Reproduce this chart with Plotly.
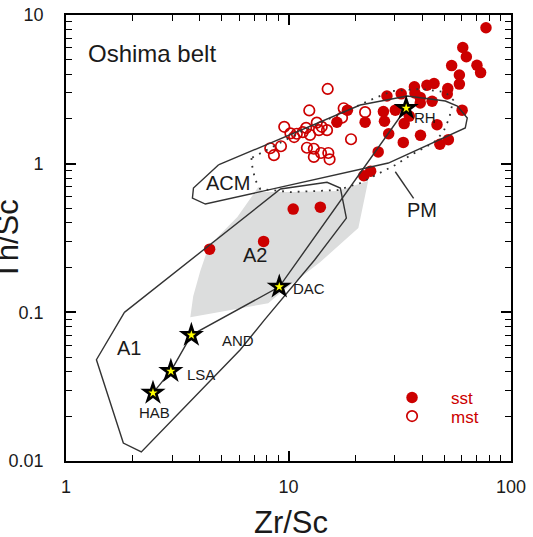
import math
import plotly.graph_objects as go

# ---------------- data (Zr/Sc, Th/Sc) ----------------
sst_zr = [77.2, 60.7, 63.0, 54.1, 70.3, 73.0, 58.6, 58.6, 52.0, 51.7, 45.1, 41.9, 36.8, 37.0, 39.1,
          32.1, 27.7, 44.2, 60.3, 26.7, 27.0, 30.2, 22.1, 16.5, 18.4, 33.1, 46.5, 28.2, 39.2, 32.8,
          52.3, 47.9, 25.3, 23.4, 21.8, 10.5, 13.9, 7.73, 4.42, 34.9, 39.1]
sst_th = [8.21, 6.04, 5.24, 4.57, 4.59, 4.10, 3.95, 3.43, 3.20, 2.94, 3.46, 3.37, 3.29, 2.99, 2.79,
          2.95, 2.85, 2.63, 2.29, 2.24, 1.93, 2.29, 1.90, 1.90, 2.29, 1.86, 1.83, 1.59, 1.55, 1.39,
          1.45, 1.35, 1.20, 0.89, 0.83, 0.495, 0.51, 0.30, 0.266, 2.09, 2.56]

mst_zr = [15.0, 12.4, 17.7, 22.1, 17.4, 9.57, 10.2, 10.6, 10.9, 11.6, 12.0, 12.5, 13.4, 14.1, 13.7,
          14.9, 19.1, 8.28, 9.25, 8.6, 12.1, 13.0, 14.0, 13.0, 15.1, 15.3]
mst_th = [3.18, 2.28, 2.36, 2.22, 2.04, 1.77, 1.60, 1.51, 1.59, 1.63, 1.74, 1.56, 1.89, 1.77, 1.68,
          1.68, 1.46, 1.27, 1.31, 1.14, 1.28, 1.26, 1.18, 1.11, 1.18, 1.07]

# reference compositions (trend HAB-LSA-AND-DAC-RH)
ref_names = ["HAB", "LSA", "AND", "DAC", "RH"]
ref_zr = [2.46, 2.96, 3.66, 9.09, 33.8]
ref_th = [0.0287, 0.0402, 0.0703, 0.1485, 2.36]

# fields
a1_zr = [1.83, 1.37, 1.81, 2.18, 6.07, 7.8, 13.1, 18.2, 17.1, 14.9, 9.2, 1.83]
a1_th = [0.100, 0.048, 0.0132, 0.0115, 0.056, 0.089, 0.225, 0.43, 0.685, 0.75, 0.675, 0.100]

acm_zr = [4.84, 3.74, 3.70, 4.23, 28.1, 35.3, 62.3, 63.6, 57.4, 50.7, 34.2, 21.0, 6.73, 4.84]
acm_th = [0.98, 0.685, 0.587, 0.535, 1.01, 1.18, 1.74, 2.03, 2.44, 2.64, 2.85, 2.48, 1.2, 0.98]

pm_zr = [6.81, 6.88, 7.09, 7.47, 10.2, 16.6, 21.0, 25.9, 30.2, 35.3, 44.8, 49.6, 52.8, 55.0,
         50.7, 39.1, 29.3, 23.3, 20.4, 11.3, 6.81]
pm_th = [1.09, 0.949, 0.776, 0.675, 0.644, 0.664, 0.74, 0.864, 0.98, 1.14, 1.38, 1.63, 2.03, 2.68,
         3.03, 3.18, 3.08, 2.68, 2.44, 1.63, 1.09]

a2_zr = [7.32, 7.7, 10.19, 16.6, 22.8, 20.6, 13.9, 9.19, 8.11, 3.62, 3.73, 4.01, 4.32, 4.79, 5.89, 7.32]
a2_th = [0.696, 0.644, 0.644, 0.654, 0.764, 0.369, 0.218, 0.135, 0.115, 0.0928, 0.1285, 0.189,
         0.262, 0.32, 0.437, 0.696]

pm_leader_zr = [30.2, 36.5]
pm_leader_th = [0.882, 0.584]

x_ticks = [1, 10, 100]
y_ticks = [0.01, 0.1, 1, 10]

# ---------------- figure ----------------
RED = '#cc0000'
LINE = '#333333'
FONT = 'Liberation Sans, Arial, sans-serif'

fig = go.Figure()

fig.add_trace(go.Scatter(x=a2_zr, y=a2_th, mode='lines', fill='toself', fillcolor='#dcdddd',
                         line=dict(width=0, color='#dcdddd'), showlegend=False, hoverinfo='skip'))

fig.add_trace(go.Scatter(x=mst_zr, y=mst_th, mode='markers', name='mst', legend='legend2',
                         marker=dict(symbol='circle-open', size=10.5, color=RED, line=dict(width=1.7, color=RED))))
fig.add_trace(go.Scatter(x=sst_zr, y=sst_th, mode='markers', name='sst', legend='legend',
                         marker=dict(symbol='circle', size=11.5, color=RED, line=dict(width=0))))

for xs, ys in [(a1_zr, a1_th), (acm_zr, acm_th), (pm_leader_zr, pm_leader_th)]:
    fig.add_trace(go.Scatter(x=xs, y=ys, mode='lines', line=dict(color=LINE, width=1.4),
                             showlegend=False, hoverinfo='skip'))
fig.add_trace(go.Scatter(x=pm_zr, y=pm_th, mode='lines', line=dict(color=LINE, width=1.8, dash='1.8px,6px'),
                         showlegend=False, hoverinfo='skip'))

fig.add_trace(go.Scatter(x=ref_zr, y=ref_th, mode='lines+markers', text=ref_names,
                         line=dict(color=LINE, width=1.4),
                         marker=dict(symbol='star', size=19, color='black', line=dict(width=0)),
                         showlegend=False))
fig.add_trace(go.Scatter(x=ref_zr, y=ref_th, mode='markers',
                         marker=dict(symbol='star', size=7, color='#ffff00', line=dict(width=0)),
                         showlegend=False, hoverinfo='skip'))

def lab(text, lx, ly, size, xanchor='center'):
    return dict(text=text, x=lx, y=ly, xref='x', yref='y', showarrow=False,
                font=dict(size=size, color='#1a1a1a', family=FONT), xanchor=xanchor, yanchor='middle')

annotations = [
    lab('Oshima belt', 0.0912, 0.7423, 24, 'left'),
    lab('ACM', 0.7263, -0.1285, 20),
    lab('PM', 1.6, -0.3122, 20),
    lab('A1', 0.2809, -1.2429, 20),
    lab('A2', 0.8476, -0.6151, 20),
    lab('RH', 1.555, 0.3116, 15, 'left'),
    lab('DAC', 1.0112, -0.8392, 15, 'left'),
    lab('AND', 0.6935, -1.1871, 15, 'left'),
    lab('LSA', 0.533, -1.4179, 15, 'left'),
    lab('HAB', 0.3969, -1.6763, 15),
    dict(text='Zr/Sc', x=0.505, y=-0.1368, xref='paper', yref='paper', showarrow=False,
         font=dict(size=31, color='#1a1a1a', family=FONT), xanchor='center', yanchor='middle'),
    dict(text='Th/Sc', x=-0.1325, y=0.495, xref='paper', yref='paper', showarrow=False, textangle=-90,
         font=dict(size=31, color='#1a1a1a', family=FONT), xanchor='center', yanchor='middle'),
]

minor_x = [m * 10 ** e for e in range(0, 2) for m in range(2, 10)]
minor_y = [m * 10 ** e for e in range(-2, 1) for m in range(2, 10)]

axis_common = dict(type='log', showgrid=False, zeroline=False, showline=True, linecolor='black',
                   linewidth=1.8, mirror='ticks', ticks='inside', ticklen=10, tickwidth=1.5,
                   tickcolor='black', tickfont=dict(size=18, color='#1a1a1a', family=FONT),
                   automargin=False)

fig.update_layout(
    width=533, height=537,
    margin=dict(l=66, r=22, t=15, b=76, pad=0, autoexpand=False),
    plot_bgcolor='white', paper_bgcolor='white',
    font=dict(family=FONT),
    xaxis=dict(axis_common, range=[0, 2], tickvals=x_ticks, ticktext=[str(v) for v in x_ticks],
               ticklabelstandoff=8,
               minor=dict(tickvals=minor_x, ticks='inside', ticklen=6, tickwidth=1.3, tickcolor='black')),
    yaxis=dict(axis_common, range=[-2, 1], tickvals=y_ticks, ticktext=['0.01', '0.1', '1', '10'],
               ticklabelstandoff=17,
               minor=dict(tickvals=minor_y, ticks='inside', ticklen=6, tickwidth=1.3, tickcolor='black')),
    legend=dict(x=0.690, y=0.1413, xanchor='left', yanchor='middle', bgcolor='rgba(0,0,0,0)',
                itemwidth=68, font=dict(size=17, color=RED, family=FONT)),
    legend2=dict(x=0.690, y=0.0998, xanchor='left', yanchor='middle', bgcolor='rgba(0,0,0,0)',
                 itemwidth=68, font=dict(size=17, color=RED, family=FONT)),
    annotations=annotations,
    showlegend=True,
)

fig.write_html('out.html')
